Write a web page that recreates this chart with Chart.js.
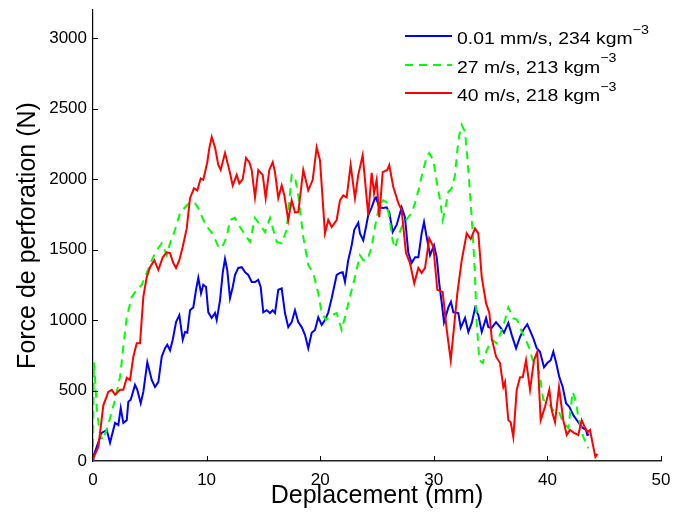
<!DOCTYPE html>
<html>
<head>
<meta charset="utf-8">
<script src="https://cdn.jsdelivr.net/npm/chart.js@4/dist/chart.umd.min.js"></script>
<style>
html,body{margin:0;padding:0;background:#fff;}
#wrap{position:relative;width:677px;height:515px;overflow:hidden;}
canvas{display:block;}
.row{position:absolute;left:405px;height:20px;white-space:nowrap;font-family:"Liberation Sans",Arial,sans-serif;font-size:17px;line-height:20px;color:#000;}
.row svg{position:absolute;left:0;top:8px;}
.row span{position:absolute;left:52px;top:3px;transform:scaleX(1.14);transform-origin:0 50%;}
.row sup{font-size:12.5px;vertical-align:baseline;position:relative;top:-10.5px;}
</style>
</head>
<body>
<div id="wrap">
<canvas id="c" width="677" height="515"></canvas>
</div>
<script>
// ---- Data (Deplacement in mm, Force in N) ----
const xTicks = [0, 10, 20, 30, 40, 50];
const yTicks = [0, 500, 1000, 1500, 2000, 2500, 3000];

const labelBlue  = '0.01 mm/s, 234 kgm';
const labelGreen = '27 m/s, 213 kgm';
const labelRed   = '40 m/s, 218 kgm';
const labelSup   = '\u22123';

const blueData = [[0,0],[0.03,30],[0.33,100],[0.77,200],[1.21,220],[1.5,130],[1.94,270],[2.23,255],[2.44,375],[2.67,270],[2.97,290],[3.11,420],[3.32,435],[3.7,540],[3.9,505],[4.2,410],[4.43,490],[4.78,700],[5.17,575],[5.46,525],[5.75,560],[6.05,740],[6.34,800],[6.54,825],[6.78,785],[7.02,860],[7.31,985],[7.6,1035],[7.9,860],[8.1,915],[8.3,910],[8.54,1070],[8.83,1090],[9.07,1215],[9.27,1300],[9.51,1190],[9.71,1250],[9.95,1235],[10.15,1055],[10.45,1015],[10.74,1050],[10.89,1000],[11.18,1140],[11.42,1335],[11.62,1435],[11.82,1355],[12.06,1155],[12.3,1235],[12.5,1320],[12.79,1370],[13.09,1375],[13.38,1340],[13.67,1320],[13.97,1270],[14.26,1270],[14.55,1285],[14.76,1235],[14.99,1055],[15.29,1070],[15.58,1050],[15.82,1070],[16.02,1050],[16.31,1215],[16.61,1225],[16.9,1050],[17.19,950],[17.49,985],[17.78,1070],[18.07,985],[18.37,950],[18.66,895],[18.95,800],[19.25,910],[19.54,930],[19.83,1020],[20.13,965],[20.42,1000],[20.71,1055],[21.01,1155],[21.45,1320],[21.74,1335],[21.98,1340],[22.18,1270],[22.47,1425],[22.77,1530],[23.0,1640],[23.35,1690],[23.5,1615],[23.79,1565],[24.03,1660],[24.23,1745],[24.53,1800],[24.82,1865],[24.91,1870],[25.2,1800],[25.55,1795],[25.85,1800],[26.08,1765],[26.38,1625],[26.73,1675],[27.17,1800],[27.46,1730],[27.76,1475],[28.05,1405],[28.35,1445],[28.64,1445],[28.93,1615],[29.14,1695],[29.37,1590],[29.67,1460],[30.02,1530],[30.26,1445],[30.48,1260],[30.7,1120],[30.9,985],[31.28,1090],[31.51,1130],[31.72,1055],[32.16,1050],[32.37,945],[32.75,1015],[33.04,915],[33.34,980],[33.63,1085],[33.92,1035],[34.22,915],[34.6,1015],[34.8,950],[35.1,945],[35.48,985],[35.89,945],[36.18,910],[36.56,980],[36.86,895],[37.24,800],[37.59,880],[37.88,930],[38.23,970],[38.53,915],[38.76,870],[39.06,800],[39.35,775],[39.7,665],[39.99,695],[40.29,715],[40.52,775],[40.76,700],[41.05,595],[41.35,525],[41.64,410],[41.93,385],[42.28,325],[42.72,275],[43.02,240],[43.4,220],[43.51,185],[43.69,190]];

const greenData = [[0,100],[0.08,700],[0.2,560],[0.35,350],[0.6,200],[0.85,150],[1.2,220],[1.5,305],[1.94,435],[2.38,595],[2.67,810],[2.97,1020],[3.41,1165],[3.85,1215],[4.29,1250],[4.73,1335],[5.17,1425],[5.61,1495],[6.05,1545],[6.49,1460],[6.78,1545],[7.22,1640],[7.66,1760],[8.1,1800],[8.54,1835],[8.98,1830],[9.27,1795],[9.71,1710],[10.15,1650],[10.59,1605],[11.03,1520],[11.33,1510],[11.77,1590],[12.06,1710],[12.5,1725],[12.94,1660],[13.38,1605],[13.82,1555],[14.26,1725],[14.7,1675],[15.14,1625],[15.58,1725],[15.87,1640],[16.17,1555],[16.61,1545],[17.05,1640],[17.49,2030],[17.78,2015],[18.07,1885],[18.51,1590],[18.95,1390],[19.39,1335],[19.83,1190],[20.13,1050],[20.51,1000],[21.01,1035],[21.45,1050],[21.89,930],[22.18,1020],[22.62,1165],[23.06,1305],[23.5,1460],[23.79,1425],[24.15,1425],[24.53,1520],[24.82,1660],[25.2,1815],[25.55,1850],[25.85,1835],[26.08,1730],[26.38,1565],[26.58,1510],[26.96,1615],[27.32,1690],[27.76,1730],[28.05,1760],[28.35,1830],[28.64,1920],[29.02,2050],[29.37,2155],[29.6,2185],[29.96,2135],[30.26,1980],[30.55,1850],[30.78,1710],[30.99,1780],[31.28,1910],[31.58,1935],[31.87,2030],[32.07,2205],[32.24,2310],[32.46,2385],[32.75,2335],[32.95,2155],[33.19,1900],[33.48,1545],[33.63,1305],[33.78,980],[34.01,715],[34.3,695],[34.66,785],[35.1,860],[35.54,835],[35.98,930],[36.27,1000],[36.56,1090],[37.0,1015],[37.35,1000],[37.74,915],[38.18,845],[38.47,785],[38.71,715],[39.06,695],[39.35,595],[39.64,435],[40.08,410],[40.52,360],[40.96,360],[41.4,270],[41.84,235],[42.23,490],[42.52,420],[42.72,310],[43.16,170],[43.6,90]];

const redData = [[0,0],[0.03,20],[0.47,100],[0.91,395],[1.35,490],[1.65,505],[1.94,470],[2.38,505],[2.67,505],[2.97,590],[3.26,575],[3.55,740],[3.85,835],[4.14,835],[4.43,1165],[4.73,1305],[5.02,1375],[5.4,1425],[5.75,1355],[6.14,1445],[6.49,1480],[6.78,1475],[7.07,1405],[7.31,1370],[7.6,1425],[7.9,1520],[8.25,1650],[8.54,1865],[8.89,1935],[9.18,1920],[9.48,2005],[9.71,1995],[10.06,2120],[10.24,2220],[10.45,2300],[10.74,2225],[11.03,2100],[11.24,2065],[11.62,2185],[12.0,2065],[12.3,1955],[12.65,2030],[12.88,1970],[13.18,2000],[13.47,2150],[13.76,2120],[13.97,2065],[14.26,1870],[14.55,2065],[14.94,2030],[15.2,1865],[15.52,2065],[15.82,2120],[16.02,2050],[16.31,1865],[16.61,1955],[16.84,1885],[17.19,1710],[17.49,1850],[17.78,1765],[18.07,1765],[18.51,2065],[18.95,1920],[19.34,1995],[19.69,2225],[19.98,2135],[20.42,1615],[20.71,1710],[21.01,1660],[21.45,1710],[21.74,1850],[22.03,1885],[22.33,1870],[22.68,2100],[23.06,1865],[23.35,2030],[23.74,2170],[24.23,1745],[24.53,2045],[24.74,1900],[24.97,1995],[25.2,1730],[25.5,2050],[25.91,2065],[26.08,2100],[26.43,1945],[26.88,1830],[27.17,1780],[27.55,1475],[27.9,1405],[28.28,1260],[28.64,1370],[28.93,1335],[29.23,1370],[29.6,1580],[29.96,1520],[30.31,1215],[30.78,1200],[31.14,930],[31.49,715],[31.78,950],[32.07,1190],[32.46,1425],[32.9,1615],[33.25,1575],[33.63,1650],[33.92,1615],[34.22,1305],[34.6,1120],[34.89,1050],[35.1,870],[35.48,740],[35.83,695],[36.12,525],[36.27,560],[36.56,290],[36.77,275],[37.0,170],[37.3,505],[37.59,595],[37.83,595],[38.12,715],[38.47,505],[38.82,715],[39.11,775],[39.41,290],[39.79,385],[40.17,505],[40.38,360],[40.67,275],[41.02,525],[41.4,290],[41.7,185],[41.99,220],[42.34,200],[42.72,185],[43.02,290],[43.31,235],[43.55,205],[43.75,220],[44.04,100],[44.22,30],[44.4,50]];

// ---- Chart ----
const FONT = '"Liberation Sans", Arial, Helvetica, sans-serif';
const toPts = arr => arr.map(p => ({x: p[0], y: p[1]}));

const series = [
  {label: labelBlue,  data: blueData,  color: '#0000ff', dash: [],    order: 2},
  {label: labelGreen, data: greenData, color: '#00ff00', dash: [8, 6], order: 1},
  {label: labelRed,   data: redData,   color: '#ff0000', dash: [],    order: 0}
];

const inwardTicks = {
  id: 'inwardTicks',
  afterDraw(chart) {
    const {ctx, chartArea: a, scales: {x, y}} = chart;
    ctx.save();
    ctx.strokeStyle = '#000';
    ctx.lineWidth = 1;
    ctx.beginPath();
    xTicks.forEach(v => {
      if (v === 0) return;
      const px = Math.round(x.getPixelForValue(v)) + 0.5;
      ctx.moveTo(px, a.bottom);
      ctx.lineTo(px, a.bottom - 5);
    });
    yTicks.forEach(v => {
      if (v === 0) return;
      const py = Math.round(y.getPixelForValue(v)) + 0.5;
      ctx.moveTo(a.left, py);
      ctx.lineTo(a.left + 5, py);
    });
    ctx.stroke();
    ctx.restore();
  }
};

new Chart(document.getElementById('c'), {
  type: 'line',
  data: {
    datasets: series.map(s => ({
      label: s.label + '\u207B\u00B3',
      data: toPts(s.data),
      borderColor: s.color,
      backgroundColor: s.color,
      borderWidth: 2,
      borderDash: s.dash,
      pointRadius: 0,
      tension: 0,
      fill: false,
      order: s.order
    }))
  },
  options: {
    responsive: false,
    animation: false,
    events: [],
    layout: {padding: {top: 10, right: 16, left: 0, bottom: 0}},
    plugins: {legend: {display: false}, tooltip: {enabled: false}},
    scales: {
      x: {
        type: 'linear',
        min: 0, max: 50,
        grid: {display: false, drawTicks: false},
        border: {display: true, color: '#222', width: 1.5},
        ticks: {color: '#000', padding: 9, font: {family: FONT, size: 17},
                callback: v => String(v)},
        afterBuildTicks: s => { s.ticks = xTicks.map(v => ({value: v})); },
        afterFit: s => { s.height = 54; s.paddingLeft = 0; s.paddingRight = 0; },
        title: {display: true, text: 'Deplacement (mm)', color: '#000',
                font: {family: FONT, size: 25}, padding: {top: 0, bottom: 4}}
      },
      y: {
        type: 'linear',
        min: 0, max: 3200,
        grid: {display: false, drawTicks: false},
        border: {display: true, color: '#000', width: 1.2},
        ticks: {color: '#000', padding: 6, font: {family: FONT, size: 17},
                callback: v => String(v)},
        afterBuildTicks: s => { s.ticks = yTicks.map(v => ({value: v})); },
        afterFit: s => { s.width = 93; s.paddingTop = 0; s.paddingBottom = 0; },
        title: {display: true, text: 'Force de perforation (N)', color: '#000',
                font: {family: FONT, size: 25}, padding: {top: 13, bottom: 0}}
      }
    }
  },
  plugins: [inwardTicks]
});

// ---- Legend (HTML, for the superscript) ----
const wrap = document.getElementById('wrap');
series.forEach((s, i) => {
  const row = document.createElement('div');
  row.className = 'row';
  row.style.top = (26 + i * 28.5) + 'px';
  const dash = s.dash.length ? ' stroke-dasharray="' + s.dash.join(',') + '"' : '';
  row.innerHTML = '<svg width="47" height="4"><line x1="0" y1="2" x2="47" y2="2" stroke="' + s.color +
    '" stroke-width="2"' + dash + '/></svg><span>' + s.label + '<sup>' + labelSup + '</sup></span>';
  wrap.appendChild(row);
});
</script>
</body>
</html>
